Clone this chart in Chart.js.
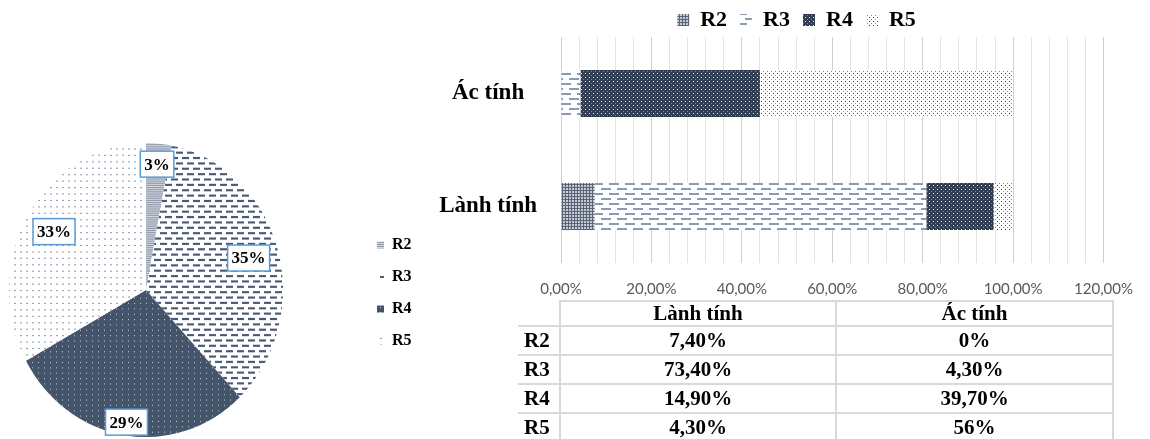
<!DOCTYPE html>
<html>
<head>
<meta charset="utf-8">
<script src="https://cdn.jsdelivr.net/npm/chart.js@4.4.1/dist/chart.umd.min.js"></script>
<style>
  html, body { margin: 0; padding: 0; background: #fff; }
  body { width: 1150px; height: 439px; position: relative; overflow: hidden; }
  #pieBox { position: absolute; left: 0; top: 0; width: 420px; height: 439px; }
  #barBox { position: absolute; left: 400px; top: -8px; width: 750px; height: 323px; }
  #tbl {
    position: absolute; left: 518px; top: 300px;
    border-collapse: collapse; table-layout: fixed;
    font-family: "Liberation Serif", serif; font-weight: bold; font-size: 21px; color: #000;
  }
  #tbl td { border: 2px solid #d9d9d9; text-align: center; vertical-align: middle; padding: 0; height: 27px; line-height: 21px; }
  #tbl tr.head td { height: 23px; }
  #tbl td.name { text-align: left; padding-left: 6px; border-left: none; }
  #tbl tr.head td.name { border-top: none; }
</style>
</head>
<body>
<div id="pieBox"><canvas id="pie" width="420" height="439"></canvas></div>
<div id="barBox"><canvas id="bar" width="750" height="323"></canvas></div>
<table id="tbl">
  <colgroup><col style="width:42px"><col style="width:276px"><col style="width:277px"></colgroup>
  <tbody id="tbody"></tbody>
</table>
<script>
// Series and categories
const seriesNames = ['R2', 'R3', 'R4', 'R5'];
const categories = ['Ác tính', 'Lành tính'];
// Share of each group (%), per series
const benign = [7.4, 73.4, 14.9, 4.3];      // Lành tính
const malignant = [0, 4.3, 39.7, 56];       // Ác tính
// Overall distribution (%)
const pieValues = [3, 35, 29, 33];
// Value axis
const axisMax = 120;
const axisMinorStep = 4;
const axisLabelStep = 20;

const SERIF = '"Liberation Serif", "Times New Roman", serif';

function fmtAxis(v) { return v.toFixed(2).replace('.', ',') + '%'; }
function fmtCell(v) { return (v % 1 === 0 ? String(v) : v.toFixed(2).replace('.', ',')) + '%'; }

// Tiled fills
function tile(w, h, bg, paint) {
  const c = document.createElement('canvas');
  c.width = w; c.height = h;
  const g = c.getContext('2d');
  if (bg) { g.fillStyle = bg; g.fillRect(0, 0, w, h); }
  paint(g);
  return g.createPattern(c, 'repeat');
}

const barFills = [
  tile(3, 3, '#5a6477', g => { g.fillStyle = '#c5cad3'; g.fillRect(1, 1, 2, 2); }),
  tile(16, 10, '#ffffff', g => {
    g.fillStyle = '#8a9bb5';
    g.fillRect(1, 1, 10, 2);
    g.fillRect(9, 6, 10, 2); g.fillRect(-7, 6, 10, 2);
  }),
  tile(4, 4, '#313d52', g => {
    g.fillStyle = '#e4e8ee'; g.fillRect(1, 1, 1, 1);
    g.fillStyle = '#7c8698'; g.fillRect(3, 3, 1, 1);
  }),
  tile(4, 4, '#ffffff', g => {
    g.fillStyle = '#203f86'; g.fillRect(1, 1, 1, 1);
    g.fillStyle = '#6f86bd'; g.fillRect(3, 3, 1, 1);
  })
];

const pieFills = [
  tile(4, 2, '#d3d8df', g => { g.fillStyle = '#8f99aa'; g.fillRect(0, 0, 4, 1); }),
  tile(11, 10, '#ffffff', g => {
    g.fillStyle = '#4a5a74';
    g.fillRect(0, 1, 7, 2);
    g.fillRect(6, 6, 7, 2); g.fillRect(-5, 6, 7, 2);
  }),
  tile(6, 5, '#44546a', g => { g.fillStyle = '#c5ccd6'; g.fillRect(2, 2, 1, 1); }),
  tile(6, 6, '#ffffff', g => { g.fillStyle = '#8d9ab0'; g.fillRect(2, 2, 2, 1); })
];

// ---------- Pie ----------
const pieStretch = 1.073;                  // vertical stretch of the pie
const pieLabelRadius = [0.86, 0.78, 0.91, 0.78];

const pieEllipse = {
  id: 'pieEllipse',
  beforeDatasetsDraw(chart) {
    const arc = chart.getDatasetMeta(0).data[0];
    const ctx = chart.ctx;
    ctx.save();
    ctx.translate(arc.x, arc.y);
    ctx.scale(1, pieStretch);
    ctx.translate(-arc.x, -arc.y);
  },
  afterDatasetsDraw(chart) {
    const ctx = chart.ctx;
    ctx.restore();
    const values = chart.data.datasets[0].data;
    chart.getDatasetMeta(0).data.forEach((arc, i) => {
      const mid = (arc.startAngle + arc.endAngle) / 2;
      const f = pieLabelRadius[i] * arc.outerRadius;
      const x = arc.x + f * Math.cos(mid);
      const y = arc.y + f * Math.sin(mid) * pieStretch;
      const text = values[i] + '%';
      ctx.save();
      ctx.font = 'bold 17px ' + SERIF;
      const w = ctx.measureText(text).width + 8;
      const h = 26;
      ctx.fillStyle = '#ffffff';
      ctx.fillRect(x - w / 2, y - h / 2, w, h);
      ctx.strokeStyle = '#5b9bd5';
      ctx.lineWidth = 1.5;
      ctx.strokeRect(x - w / 2, y - h / 2, w, h);
      ctx.fillStyle = '#000';
      ctx.textAlign = 'center';
      ctx.textBaseline = 'middle';
      ctx.fillText(text, x, y + 1);
      ctx.restore();
    });
  }
};

const pieLegendPlace = {
  id: 'pieLegendPlace',
  beforeDraw(chart) {
    const lg = chart.legend;
    lg.left = 361; lg.right = 420; lg.top = 221; lg.bottom = 439;
  }
};

new Chart(document.getElementById('pie'), {
  type: 'pie',
  data: {
    labels: seriesNames,
    datasets: [{ data: pieValues, backgroundColor: pieFills, borderWidth: 0 }]
  },
  options: {
    responsive: false,
    animation: false,
    devicePixelRatio: 1,
    layout: { padding: { left: 9, top: 153, right: 136, bottom: 12 } },
    plugins: {
      legend: {
        position: 'right',
        align: 'start',
        maxWidth: 1,
        labels: {
          boxWidth: 7, boxHeight: 7, padding: 16, color: '#000',
          font: { family: SERIF, weight: 'bold', size: 16 }
        }
      },
      tooltip: { enabled: false }
    }
  },
  plugins: [pieEllipse, pieLegendPlace]
});

// ---------- Stacked bars ----------
// centre the legend over the plot and keep it clear of the gridlines
const barLegendShift = {
  id: 'barLegendShift',
  afterLayout(chart) {
    const lg = chart.legend;
    lg.left += 22; lg.right += 22;
    lg.top += 4; lg.bottom += 4;
  }
};

new Chart(document.getElementById('bar'), {
  type: 'bar',
  data: {
    labels: categories,
    datasets: seriesNames.map((name, i) => ({
      label: name,
      data: [malignant[i], benign[i]],
      backgroundColor: barFills[i],
      borderWidth: 0,
      categoryPercentage: 1,
      barPercentage: 0.415
    }))
  },
  options: {
    indexAxis: 'y',
    responsive: false,
    animation: false,
    devicePixelRatio: 1,
    layout: { padding: { left: 36, right: 37, top: 0, bottom: 0 } },
    plugins: {
      legend: {
        position: 'top',
        labels: {
          boxWidth: 12, boxHeight: 12, padding: 13, color: '#000',
          font: { family: SERIF, weight: 'bold', size: 22 }
        }
      },
      tooltip: { enabled: false }
    },
    scales: {
      x: {
        stacked: true,
        min: 0,
        max: axisMax,
        ticks: {
          stepSize: axisMinorStep,
          autoSkip: false,
          maxRotation: 0,
          padding: 17,
          color: '#595959',
          font: { family: 'Lato', size: 15 },
          callback: v => (Math.round(v) % axisLabelStep === 0 ? fmtAxis(v) : '')
        },
        grid: {
          drawTicks: false,
          lineWidth: 1,
          color: c => (Math.round(c.tick.value) % axisLabelStep === 0 ? '#cfcfcf' : '#e3e3e3')
        },
        border: { display: false }
      },
      y: {
        stacked: true,
        ticks: {
          crossAlign: 'center',
          padding: 16,
          color: '#000',
          font: { family: SERIF, weight: 'bold', size: 23 }
        },
        grid: { display: false },
        border: { display: false },
        afterFit: s => { s.width = 125; }
      }
    }
  },
  plugins: [barLegendShift]
});

// ---------- Data table ----------
const tbody = document.getElementById('tbody');
let html = '<tr class="head"><td class="name"></td><td>' + categories[1] + '</td><td>' + categories[0] + '</td></tr>';
seriesNames.forEach((name, i) => {
  html += '<tr><td class="name">' + name + '</td><td>' + fmtCell(benign[i]) + '</td><td>' + fmtCell(malignant[i]) + '</td></tr>';
});
tbody.innerHTML = html;
</script>
</body>
</html>
